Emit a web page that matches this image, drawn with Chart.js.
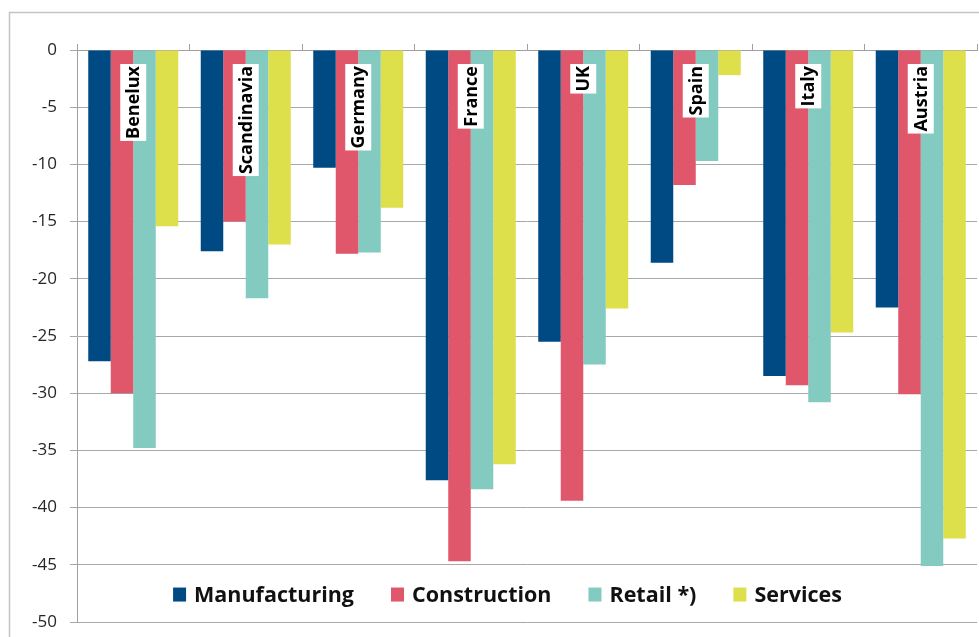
<!DOCTYPE html>
<html><head><meta charset="utf-8">
<style>html,body{margin:0;padding:0;background:#fff;overflow:hidden}#wrap{width:979px;height:637px;position:relative}</style>
<script src="https://cdn.jsdelivr.net/npm/chart.js@4"></script>
</head><body><div id="wrap"><canvas id="c" width="979" height="637"></canvas></div>
<script>
const categories = ['Benelux','Scandinavia','Germany','France','UK','Spain','Italy','Austria'];
const manufacturing = [-27.2,-17.6,-10.3,-37.6,-25.5,-18.6,-28.5,-22.5];
const construction  = [-30.0,-15.0,-17.8,-44.7,-39.4,-11.8,-29.3,-30.1];
const retail        = [-34.8,-21.7,-17.7,-38.4,-27.5,-9.7,-30.8,-45.1];
const services      = [-15.4,-17.0,-13.8,-36.2,-22.6,-2.2,-24.7,-42.7];
const seriesNames = ['Manufacturing','Construction','Retail *)','Services'];
const yMin = -50, yMax = 0, yStep = 5;

const colors = ['#004a83','#e0566b','#83cac1','#dde04b'];

const frame = { id:'frame', beforeDraw(chart){ const ctx=chart.ctx; ctx.save(); ctx.fillStyle='#fff'; ctx.fillRect(0,0,chart.width,chart.height); ctx.strokeStyle='#c4c4c4'; ctx.lineWidth=1.5; ctx.strokeRect(9.5,12.5,2000,2000); ctx.restore(); } };

const catLabels = { id:'catLabels', afterDatasetsDraw(chart){
  const ctx=chart.ctx, xs=chart.scales.x, top=chart.chartArea.top;
  ctx.save(); ctx.font='bold 18px "Open Sans"';
  chart.data.labels.forEach((lab,i)=>{
    const cx=xs.getPixelForValue(i);
    const w=ctx.measureText(lab).width;
    const boxTop=top+14;
    ctx.fillStyle='#fff'; ctx.fillRect(cx-13, boxTop, 26, w+4);
    ctx.save(); ctx.translate(cx+1, boxTop+2); ctx.rotate(-Math.PI/2);
    ctx.fillStyle='#000'; ctx.textAlign='right'; ctx.textBaseline='middle';
    ctx.fillText(lab,0,0); ctx.restore();
  });
  ctx.restore();
}};

const legendIn = { id:'legendIn', afterDraw(chart){
  const ctx=chart.ctx; ctx.save(); ctx.font='bold 21.5px "Open Sans"';
  const ds=chart.data.datasets; const box=13, gap=8, sep=37;
  const ws=ds.map(d=>ctx.measureText(d.label).width);
  const total=ws.reduce((a,b)=>a+b,0)+ds.length*(box+gap)+(ds.length-1)*sep;
  let x=507.5-total/2; const y=chart.scales.y.getPixelForValue(-47.6);
  ds.forEach((d,i)=>{
    ctx.fillStyle=d.backgroundColor; ctx.fillRect(x,y-7,box,14);
    x+=box+gap; ctx.fillStyle='#111'; ctx.textBaseline='middle'; ctx.textAlign='left';
    ctx.fillText(d.label,x,y+1); x+=ws[i]+sep;
  });
  ctx.restore();
}};

const seriesData=[manufacturing,construction,retail,services];
new Chart(document.getElementById('c'),{
  type:'bar',
  data:{labels:categories,datasets:seriesData.map((d,i)=>({label:seriesNames[i],data:d,backgroundColor:colors[i],borderWidth:0,categoryPercentage:0.8,barPercentage:1.0}))},
  options:{
    responsive:false, devicePixelRatio:1, animation:false,
    layout:{padding:{top:0,left:0,right:2,bottom:15}},
    plugins:{legend:{display:false},tooltip:{enabled:false}},
    scales:{
      x:{position:'top',offset:true,
        grid:{display:true,drawOnChartArea:false,offset:true,tickLength:6,color:'#a0a0a0',lineWidth:1},
        border:{display:true,color:'#a0a0a0'},
        ticks:{display:false},
        afterFit(s){s.height=50;}},
      y:{min:yMin,max:yMax,
        ticks:{stepSize:yStep,padding:13,color:'#262626',font:{family:'"Open Sans"',size:17}},
        grid:{color:'#a8a8a8',lineWidth:1,tickLength:7},
        border:{display:true,color:'#a0a0a0'},
        afterFit(s){s.width=77;s.paddingTop=0;s.paddingBottom=0;}}
    }
  },
  plugins:[frame,catLabels,legendIn]
});
</script></body></html>
